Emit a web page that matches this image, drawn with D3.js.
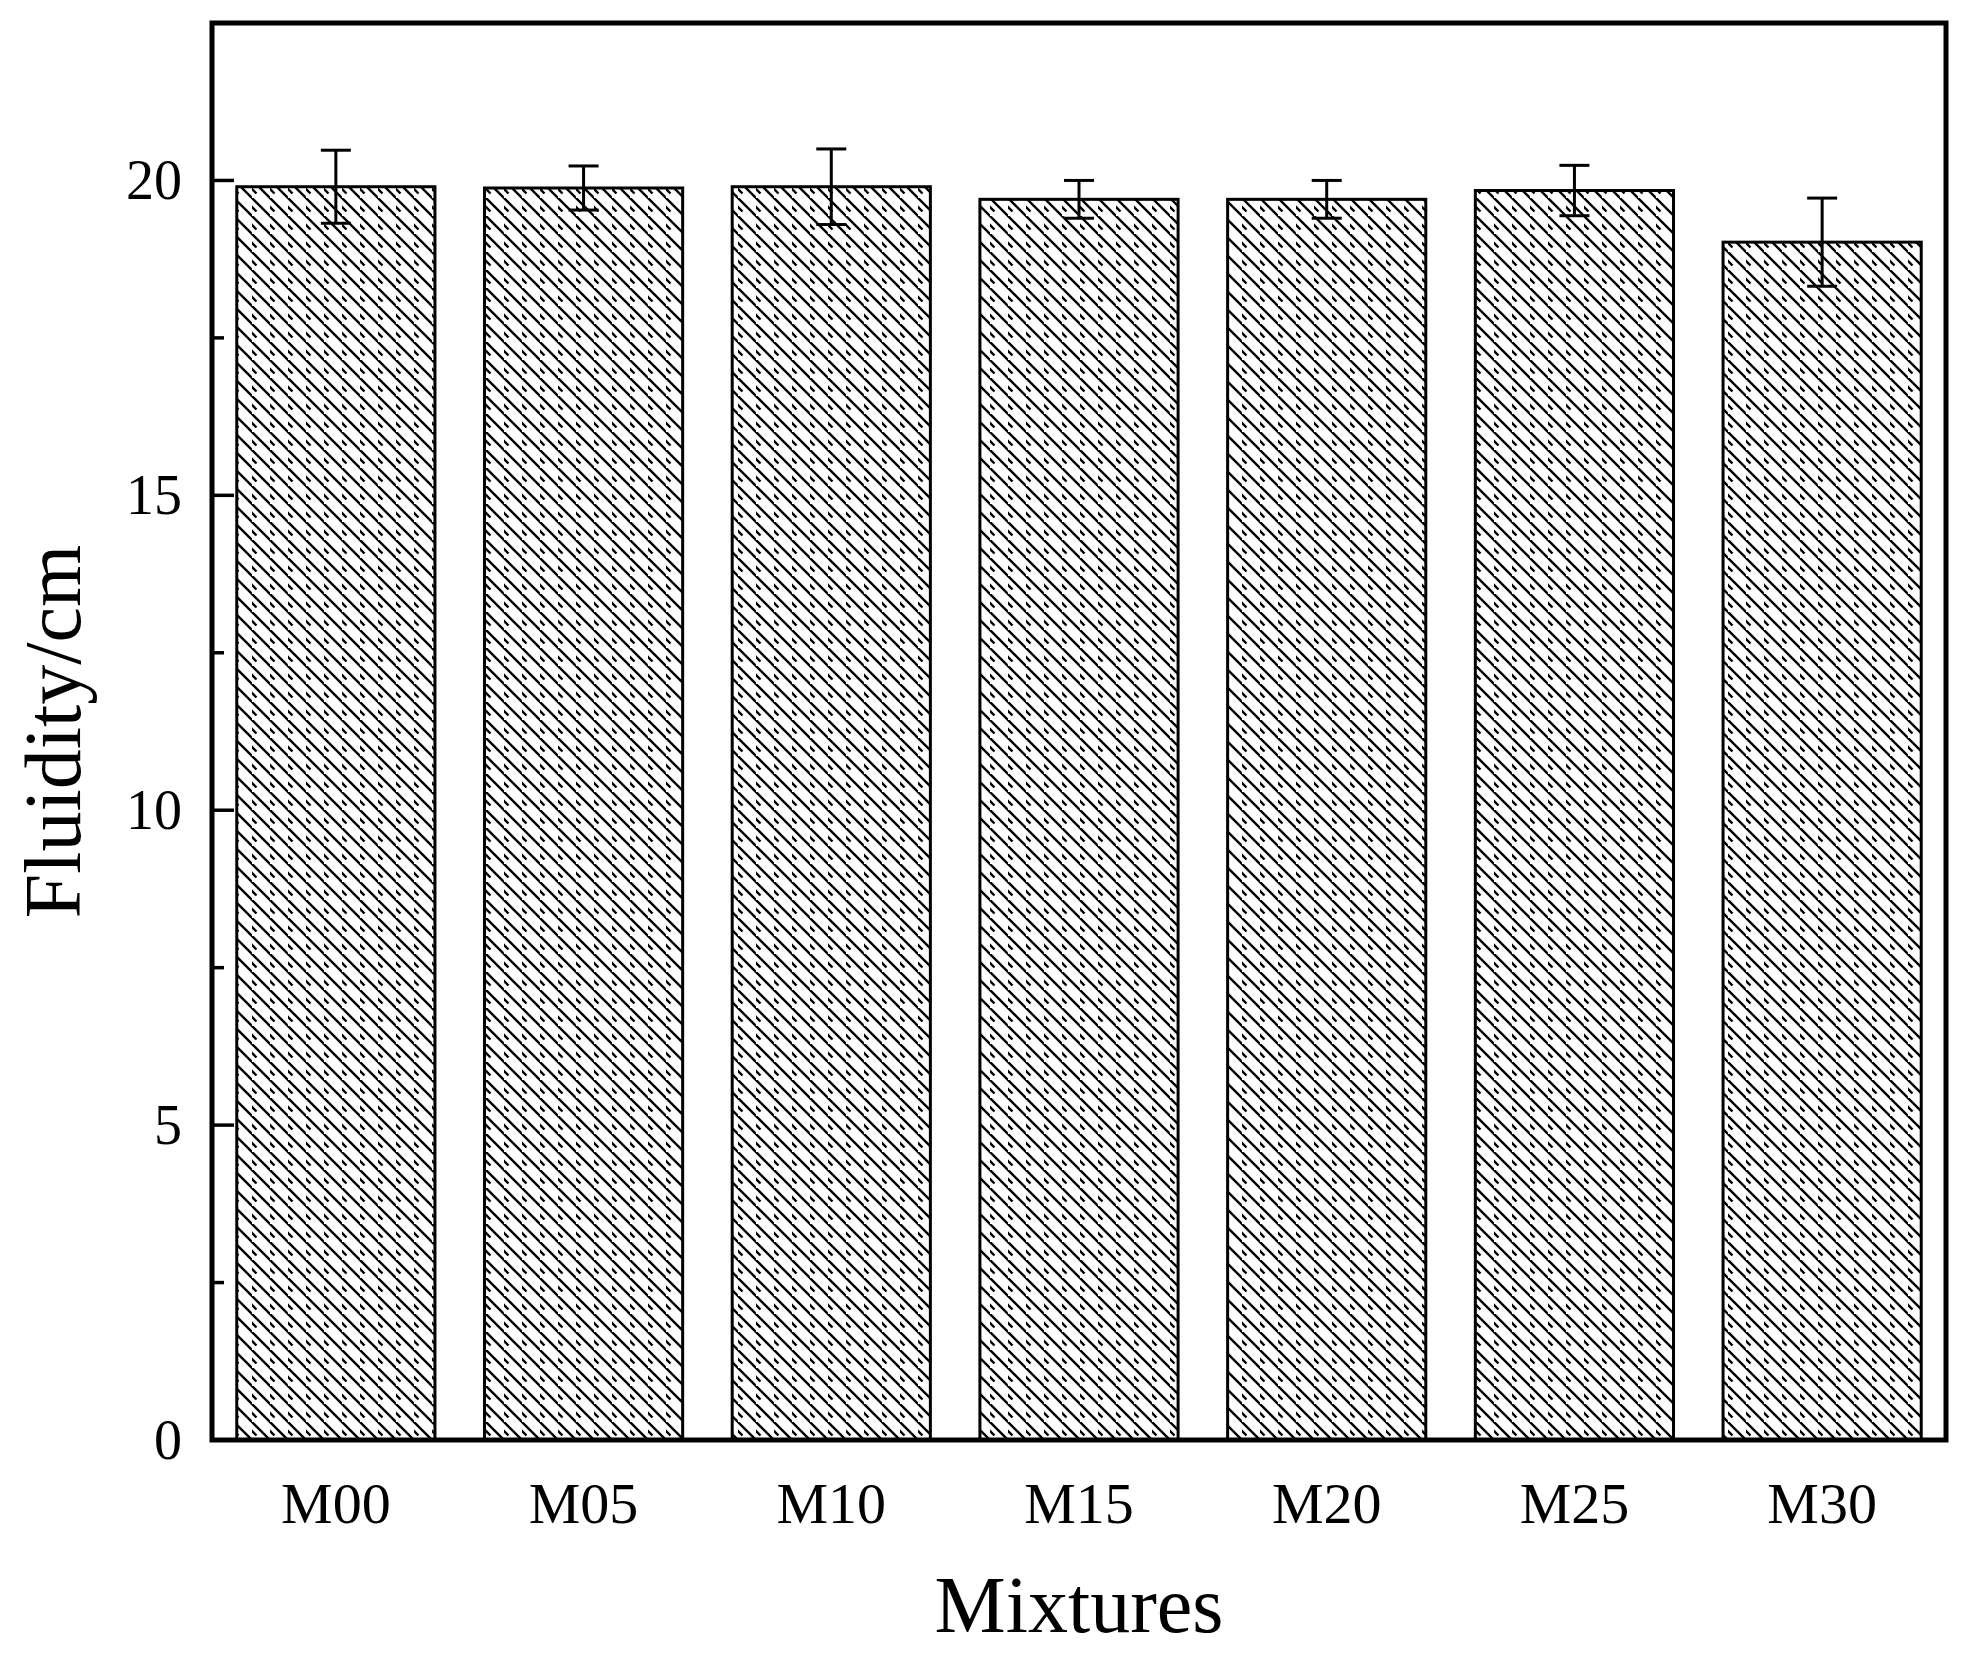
<!DOCTYPE html><html><head><meta charset="utf-8"><script src="https://cdn.jsdelivr.net/npm/d3@7"></script>
<style>body{margin:0;background:#fff}text{font-family:"Liberation Serif","Times New Roman",serif}</style></head><body>
<svg id="c" width="1971" height="1663"></svg>
<script>
const categories=["M00","M05","M10","M15","M20","M25","M30"];
const values=[19.9,19.88,19.9,19.7,19.7,19.84,19.02];
const errors=[0.58,0.35,0.6,0.3,0.3,0.4,0.7];
const yTicks=[0,5,10,15,20];
const svg=d3.select("#c");
const L=212,R=1946,T=23,B=1440;
const x=d3.scaleBand().domain(categories).range([L,R]).paddingInner(0.2).paddingOuter(0.1);
const y=d3.scaleLinear().domain([0,22.5]).range([B,T]);
const defs=svg.append("defs");
const p=defs.append("pattern").attr("id","h").attr("patternUnits","userSpaceOnUse").attr("width",18).attr("height",18);
p.append("path").attr("d","M-4.5,4.5 L4.5,13.5 M0,0 L18,18 M13.5,-4.5 L22.5,4.5").attr("stroke","#000").attr("stroke-width",2.4);
svg.selectAll("rect.b").data(categories).enter().append("rect")
 .attr("x",d=>x(d)).attr("y",(d,i)=>y(values[i])).attr("width",x.bandwidth()).attr("height",(d,i)=>B-y(values[i]))
 .attr("fill","url(#h)").attr("stroke","#000").attr("stroke-width",3);
const eg=svg.append("g").attr("stroke","#000").attr("stroke-width",3);
categories.forEach((c,i)=>{const cx=x(c)+x.bandwidth()/2;
 eg.append("line").attr("x1",cx).attr("x2",cx).attr("y1",y(values[i]+errors[i])).attr("y2",y(values[i]-errors[i]));
 [1,-1].forEach(s=>eg.append("line").attr("x1",cx-15).attr("x2",cx+15).attr("y1",y(values[i]+s*errors[i])).attr("y2",y(values[i]+s*errors[i])));});
const ax=svg.append("g").attr("transform",`translate(${L},0)`).call(d3.axisRight(y).tickValues(d3.range(0,22.5,2.5)).tickSize(0).tickFormat(""));
ax.select(".domain").remove();
svg.append("g").selectAll("line").data(d3.range(0,22.5,2.5)).enter().append("line")
 .attr("x1",L).attr("x2",d=>L+(d%5===0?22:12)).attr("y1",d=>y(d)).attr("y2",d=>y(d)).attr("stroke","#000").attr("stroke-width",3.5);
svg.append("g").selectAll("text").data(yTicks).enter().append("text").attr("x",182).attr("y",d=>y(d)+19).attr("text-anchor","end").attr("font-size",56).text(d=>d);
svg.append("g").selectAll("text").data(categories).enter().append("text").attr("x",d=>x(d)+x.bandwidth()/2).attr("y",1523).attr("text-anchor","middle").attr("font-size",58).text(d=>d);
svg.append("rect").attr("x",L).attr("y",T).attr("width",R-L).attr("height",B-T).attr("fill","none").attr("stroke","#000").attr("stroke-width",5);
svg.append("text").attr("x",(L+R)/2).attr("y",1632).attr("text-anchor","middle").attr("font-size",80).text("Mixtures");
svg.append("text").attr("transform",`translate(80,${(T+B)/2}) rotate(-90)`).attr("text-anchor","middle").attr("font-size",80).text("Fluidity/cm");
</script></body></html>
